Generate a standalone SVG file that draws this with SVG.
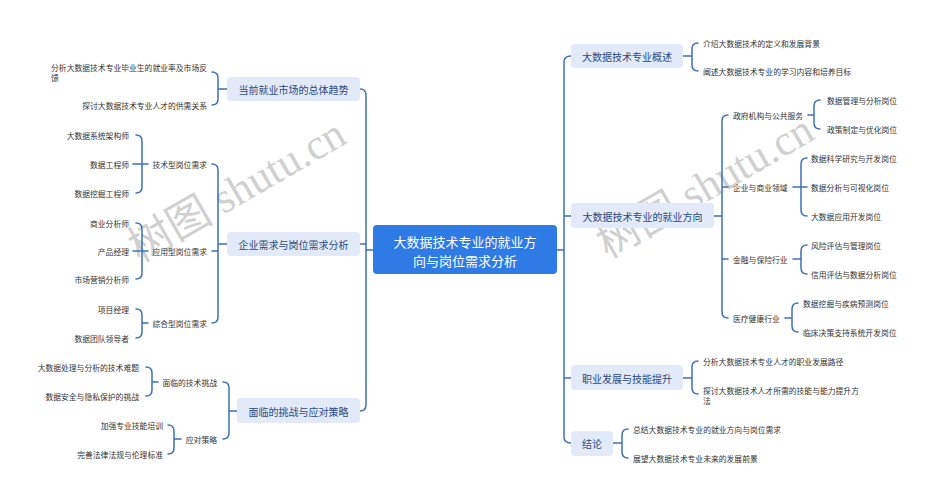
<svg xmlns="http://www.w3.org/2000/svg" width="935" height="500" viewBox="0 0 935 500">
<style>
.wm{font-family:"Liberation Serif","Noto Sans CJK SC",serif;font-size:43px;fill:#bdbdbd;opacity:0.7}
.leaf{font-family:"Noto Sans CJK SC","Noto Sans",sans-serif;font-size:7.8px;fill:#333333;dominant-baseline:central}
.end{text-anchor:end}
.br rect{fill:#e2e9f8}
.br text{font-family:"Noto Sans CJK SC","Noto Sans",sans-serif;font-size:10px;fill:#2a4a7f;text-anchor:middle;dominant-baseline:central}
.ctr text{font-family:"Noto Sans CJK SC","Noto Sans",sans-serif;font-size:13px;fill:#ffffff;text-anchor:middle;dominant-baseline:central}
#connectors path{fill:none;stroke:#3e71b7;stroke-width:1.5;stroke-linecap:round}
</style>
<rect width="935" height="500" fill="#ffffff"/>
<g id="watermarks">
<text class="wm" x="237" y="190" text-anchor="middle" dominant-baseline="central" transform="rotate(-30 237 190)">树图 shutu.cn</text>
<text class="wm" x="705" y="186" text-anchor="middle" dominant-baseline="central" transform="rotate(-30 705 186)">树图 shutu.cn</text>
</g>
<g id="connectors">
<path d="M360 89 Q366 89 366 95 L366 405 Q366 411 360 411 M360 244 L366 244 M366 250 L374 250"/>
<path d="M212 72 Q218 72 218 78 L218 99 Q218 105 212 105 M218 89 L227 89"/>
<path d="M212 164 Q218 164 218 170 L218 317 Q218 323 212 323 M212 251 L218 251 M218 244 L227 244"/>
<path d="M136 135 Q142 135 142 141 L142 187 Q142 193 136 193 M133 164 L148 164"/>
<path d="M136 223 Q142 223 142 229 L142 273 Q142 279 136 279 M133 251 L148 251"/>
<path d="M136 309 Q142 309 142 315 L142 332 Q142 338 136 338 M142 323 L148 323"/>
<path d="M223 382 Q229 382 229 388 L229 433 Q229 439 223 439 M229 411 L237 411"/>
<path d="M146 367 Q152 367 152 373 L152 390 Q152 396 146 396 M152 382 L158 382"/>
<path d="M168 425 Q174 425 174 431 L174 448 Q174 454 168 454 M174 439 L181 439"/>
<path d="M571 56 Q564 56 564 62 L564 437 Q564 443 571 443 M564 216 L571 216 M564 378 L571 378 M557 250 L564 250"/>
<path d="M698 43 Q692 43 692 49 L692 65 Q692 71 698 71 M683 56 L692 56"/>
<path d="M728 115 Q722 115 722 121 L722 312 Q722 318 728 318 M722 187 L728 187 M722 259 L728 259 M714 216 L722 216"/>
<path d="M820 100 Q814 100 814 106 L814 123 Q814 129 820 129 M808 115 L814 115"/>
<path d="M807 158 Q801 158 801 164 L801 210 Q801 216 807 216 M793 187 L807 187"/>
<path d="M807 245 Q801 245 801 251 L801 268 Q801 274 807 274 M793 259 L801 259"/>
<path d="M798 303 Q792 303 792 309 L792 326 Q792 332 798 332 M785 318 L792 318"/>
<path d="M698 361 Q692 361 692 367 L692 388 Q692 394 698 394 M683 378 L692 378"/>
<path d="M628 429 Q622 429 622 435 L622 452 Q622 458 628 458 M613 443 L622 443"/>
</g>
<g id="center" class="ctr">
<rect x="373" y="225" width="184" height="49" rx="4" fill="#2f7be6"/>
<text x="465" y="241">大数据技术专业的就业方</text>
<text x="465" y="260">向与岗位需求分析</text>
</g>
<g id="b-trend" class="br">
<rect x="227" y="77" width="133" height="24" rx="4"/>
<text x="293.5" y="89">当前就业市场的总体趋势</text>
</g>
<g id="b-trend-leaves">
<text class="leaf end" x="207" y="67">分析大数据技术专业毕业生的就业率及市场反</text>
<text class="leaf" x="51" y="77">馈</text>
<text class="leaf end" x="207" y="105">探讨大数据技术专业人才的供需关系</text>
</g>
<g id="b-demand" class="br">
<rect x="227" y="232" width="133" height="24" rx="4"/>
<text x="293.5" y="244">企业需求与岗位需求分析</text>
</g>
<g id="b-demand-sub">
<text class="leaf end" x="207" y="164">技术型岗位需求</text>
<text class="leaf end" x="207" y="251">应用型岗位需求</text>
<text class="leaf end" x="207" y="323">综合型岗位需求</text>
<text class="leaf end" x="129" y="135">大数据系统架构师</text>
<text class="leaf end" x="129" y="164">数据工程师</text>
<text class="leaf end" x="129" y="193">数据挖掘工程师</text>
<text class="leaf end" x="129" y="223">商业分析师</text>
<text class="leaf end" x="129" y="251">产品经理</text>
<text class="leaf end" x="129" y="279">市场营销分析师</text>
<text class="leaf end" x="129" y="309">项目经理</text>
<text class="leaf end" x="129" y="338">数据团队领导者</text>
</g>
<g id="b-challenge" class="br">
<rect x="237" y="398" width="123" height="25" rx="4"/>
<text x="298.5" y="411">面临的挑战与应对策略</text>
</g>
<g id="b-challenge-sub">
<text class="leaf end" x="217" y="382">面临的技术挑战</text>
<text class="leaf end" x="217" y="439">应对策略</text>
<text class="leaf end" x="139" y="367">大数据处理与分析的技术难题</text>
<text class="leaf end" x="139" y="396">数据安全与隐私保护的挑战</text>
<text class="leaf end" x="163" y="425">加强专业技能培训</text>
<text class="leaf end" x="163" y="454">完善法律法规与伦理标准</text>
</g>
<g id="b-overview" class="br">
<rect x="571" y="44" width="112" height="24" rx="4"/>
<text x="627" y="56">大数据技术专业概述</text>
</g>
<g id="b-overview-leaves">
<text class="leaf" x="703" y="43">介绍大数据技术的定义和发展背景</text>
<text class="leaf" x="703" y="71">阐述大数据技术专业的学习内容和培养目标</text>
</g>
<g id="b-direction" class="br">
<rect x="571" y="203" width="143" height="25" rx="4"/>
<text x="642.5" y="216">大数据技术专业的就业方向</text>
</g>
<g id="b-direction-sub">
<text class="leaf" x="733" y="115">政府机构与公共服务</text>
<text class="leaf" x="733" y="187">企业与商业领域</text>
<text class="leaf" x="733" y="259">金融与保险行业</text>
<text class="leaf" x="733" y="318">医疗健康行业</text>
<text class="leaf" x="827" y="100">数据管理与分析岗位</text>
<text class="leaf" x="827" y="129">政策制定与优化岗位</text>
<text class="leaf" x="811" y="158">数据科学研究与开发岗位</text>
<text class="leaf" x="811" y="187">数据分析与可视化岗位</text>
<text class="leaf" x="811" y="216">大数据应用开发岗位</text>
<text class="leaf" x="811" y="245">风险评估与管理岗位</text>
<text class="leaf" x="811" y="274">信用评估与数据分析岗位</text>
<text class="leaf" x="803" y="303">数据挖掘与疾病预测岗位</text>
<text class="leaf" x="803" y="332">临床决策支持系统开发岗位</text>
</g>
<g id="b-career" class="br">
<rect x="571" y="365" width="112" height="25" rx="4"/>
<text x="627" y="378">职业发展与技能提升</text>
</g>
<g id="b-career-leaves">
<text class="leaf" x="703" y="361">分析大数据技术专业人才的职业发展路径</text>
<text class="leaf" x="703" y="390">探讨大数据技术人才所需的技能与能力提升方</text>
<text class="leaf" x="703" y="400">法</text>
</g>
<g id="b-conclusion" class="br">
<rect x="571" y="431" width="42" height="25" rx="4"/>
<text x="592" y="443">结论</text>
</g>
<g id="b-conclusion-leaves">
<text class="leaf" x="633" y="429">总结大数据技术专业的就业方向与岗位需求</text>
<text class="leaf" x="633" y="458">展望大数据技术专业未来的发展前景</text>
</g>
</svg>
